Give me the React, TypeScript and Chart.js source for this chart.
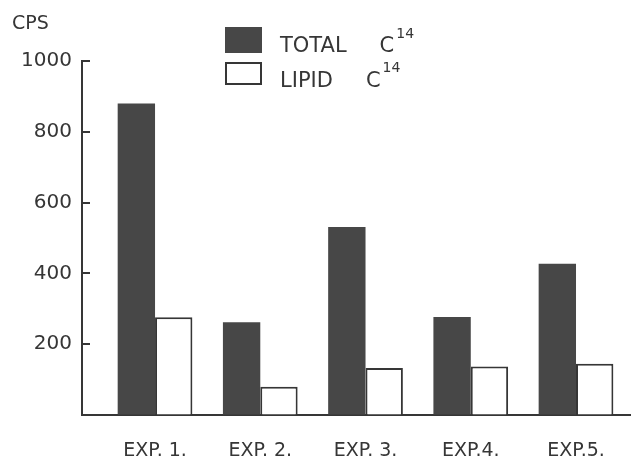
import React, { useEffect, useRef } from "react";
import { Chart, registerables } from "chart.js";

Chart.register(...registerables);

const categories = ["EXP. 1.", "EXP. 2.", "EXP. 3.", "EXP.4.", "EXP.5."];
const totalC14 = [880, 262, 531, 277, 427];
const lipidC14 = [276, 80, 133, 137, 145];
const yTicks = [0, 200, 400, 600, 800, 1000];
const seriesNames = ["TOTAL", "LIPID"];
const yTitle = "CPS";

const FONT = "'DejaVu Sans', sans-serif";
const INK = "#363636";
const DARK = "#474747";

const overlay = {
  id: "overlay",
  afterDraw(chart: any) {
    const ctx = chart.ctx;
    const y = chart.scales.y;
    const area = chart.chartArea;
    ctx.save();
    // inward tick marks on y axis
    ctx.strokeStyle = INK;
    ctx.lineWidth = 2;
    yTicks.forEach((v) => {
      if (v === 0) return;
      const py = Math.round(y.getPixelForValue(v));
      ctx.beginPath();
      ctx.moveTo(area.left, py);
      ctx.lineTo(area.left + 8, py);
      ctx.stroke();
    });
    // y title
    ctx.fillStyle = INK;
    ctx.font = `19px ${FONT}`;
    ctx.textBaseline = "alphabetic";
    ctx.textAlign = "left";
    ctx.fillText(yTitle, 12, 29);
    // legend
    const ds = chart.data.datasets;
    const rows = [
      { boxTop: 27, boxH: 26, base: 52, supBase: 38 },
      { boxTop: 62, boxH: 23, base: 87, supBase: 72 },
    ];
    ds.forEach((d: any, i: number) => {
      const r = rows[i];
      if (i === 0) {
        ctx.fillStyle = d.backgroundColor;
        ctx.fillRect(225, r.boxTop, 37, r.boxH);
      } else {
        ctx.fillStyle = "#fff";
        ctx.fillRect(225, r.boxTop, 37, r.boxH);
        ctx.strokeStyle = INK;
        ctx.lineWidth = 2;
        ctx.strokeRect(226, r.boxTop + 1, 35, r.boxH - 2);
      }
      ctx.fillStyle = INK;
      ctx.font = `21px ${FONT}`;
      ctx.fillText(seriesNames[i], 280, r.base);
      const w = ctx.measureText(seriesNames[i]).width;
      const cx = 280 + w + 33;
      ctx.fillText("C", cx, r.base);
      const cw = ctx.measureText("C").width;
      ctx.font = `14px ${FONT}`;
      ctx.fillText("14", cx + cw + 2, r.supBase);
    });
    ctx.restore();
  },
};

export default function App() {
  const ref = useRef<HTMLCanvasElement>(null);
  useEffect(() => {
    if (!ref.current) return;
    const chart = new Chart(ref.current, {
      type: "bar",
      data: {
        datasets: [
          {
            label: "TOTAL C14",
            data: categories.map((_, i) => ({ x: i, y: totalC14[i] })),
            backgroundColor: DARK,
            borderWidth: 0,
            categoryPercentage: 0.71,
            barPercentage: 1,
          },
          {
            label: "LIPID C14",
            data: categories.map((_, i) => ({ x: i, y: lipidC14[i] })),
            backgroundColor: "#ffffff",
            borderColor: INK,
            borderWidth: 2,
            categoryPercentage: 0.71,
            barPercentage: 1,
          },
        ],
      },
      options: {
        responsive: false,
        animation: false,
        layout: { padding: { top: 61, right: 2, left: 0, bottom: 0 } },
        plugins: {
          legend: { display: false },
          tooltip: { enabled: false },
          title: { display: false },
        },
        scales: {
          x: {
            type: "linear",
            min: -0.694,
            max: 4.513,
            offset: false,
            afterBuildTicks: (scale: any) => {
              scale.ticks = categories.map((_, i) => ({ value: i }));
            },
            afterFit: (scale: any) => {
              scale.height = 53;
            },
            grid: { display: false, drawTicks: false },
            border: { display: true, color: INK, width: 2 },
            ticks: {
              padding: 25,
              color: INK,
              font: { family: FONT, size: 19 },
              callback: (v: any) => categories[v] ?? "",
              maxRotation: 0,
              autoSkip: false,
            },
          },
          y: {
            min: 0,
            max: 1000,
            afterBuildTicks: (scale: any) => {
              scale.ticks = yTicks.map((v) => ({ value: v }));
            },
            afterFit: (scale: any) => {
              scale.width = 82;
            },
            grid: { drawOnChartArea: false, drawTicks: false },
            border: { display: true, color: INK, width: 2 },
            ticks: {
              padding: 10,
              color: INK,
              font: { family: FONT, size: 20 },
              callback: (v: any) => (v === 0 ? "" : String(v)),
            },
          },
        },
      },
      plugins: [overlay],
    });
    return () => chart.destroy();
  }, []);
  return (
    <div style={{ position: "fixed", left: 0, top: 0, width: 632, height: 468, background: "#fff" }}>
      <canvas ref={ref} width={632} height={468} style={{ width: 632, height: 468 }} />
    </div>
  );
}
